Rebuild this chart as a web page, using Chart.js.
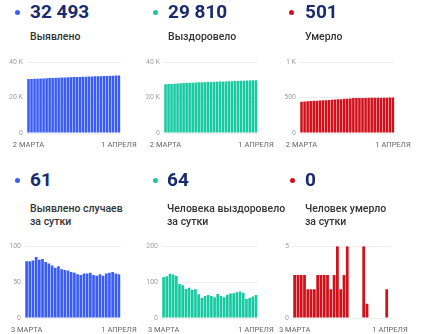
<!DOCTYPE html>
<html>
<head>
<meta charset="utf-8">
<script src="https://cdn.jsdelivr.net/npm/chart.js@4/dist/chart.umd.min.js"></script>
<style>
  body { margin: 0; background: #fff; font-family: Roboto, sans-serif; }
  #wrap { position: relative; width: 430px; height: 334px; overflow: hidden; }
  .dot { position: absolute; width: 5px; height: 5px; border-radius: 50%; }
  .num { position: absolute; font-weight: 700; font-size: 19px; line-height: 19px; color: #172b6e; white-space: nowrap; }
  .lbl { position: absolute; font-weight: 500; font-size: 10.5px; line-height: 13.5px; color: #333; white-space: nowrap; }
  canvas { position: absolute; }
</style>
</head>
<body>
<div id="wrap"></div>
<script>
// dates: cumulative charts start on 2 March, daily ones on 3 March
const totalDates = ['2 МАРТА', '3 МАРТА', '4 МАРТА', '5 МАРТА', '6 МАРТА', '7 МАРТА', '8 МАРТА', '9 МАРТА',
  '10 МАРТА', '11 МАРТА', '12 МАРТА', '13 МАРТА', '14 МАРТА', '15 МАРТА', '16 МАРТА', '17 МАРТА',
  '18 МАРТА', '19 МАРТА', '20 МАРТА', '21 МАРТА', '22 МАРТА', '23 МАРТА', '24 МАРТА', '25 МАРТА',
  '26 МАРТА', '27 МАРТА', '28 МАРТА', '29 МАРТА', '30 МАРТА', '31 МАРТА', '1 АПРЕЛЯ'];
const dailyDates = totalDates.slice(1);

// cumulative totals
const casesTotal = [30451, 30530, 30609, 30689, 30774, 30855, 30937, 31015, 31091, 31164, 31234,
  31306, 31374, 31441, 31507, 31571, 31634, 31695, 31755, 31817, 31879, 31942, 32002, 32061,
  32122, 32181, 32243, 32306, 32370, 32432, 32493];
const recoveredTotal = [27506, 27620, 27736, 27859, 27980, 28097, 28192, 28283, 28364, 28448, 28527,
  28607, 28673, 28729, 28790, 28854, 28915, 28973, 29040, 29101, 29159, 29224, 29292, 29361,
  29433, 29507, 29577, 29630, 29686, 29746, 29810];
const deathsTotal = [443, 446, 449, 452, 455, 457, 459, 461, 464, 467, 470, 473, 475, 478, 483, 485,
  488, 493, 493, 493, 493, 493, 498, 499, 499, 499, 499, 499, 499, 501, 501];

// per day
const casesDaily = [79, 79, 80, 85, 81, 82, 78, 76, 73, 70, 72, 68, 67, 66, 64, 63, 61, 60, 62, 62,
  63, 60, 59, 61, 59, 62, 63, 64, 62, 61];
const recoveredDaily = [114, 116, 123, 121, 117, 95, 91, 81, 84, 79, 80, 66, 56, 61, 64, 61, 58, 67,
  61, 58, 65, 68, 69, 72, 74, 70, 53, 56, 60, 64];
const deathsDaily = [3, 3, 3, 3, 2, 2, 2, 3, 3, 3, 3, 2, 3, 5, 2, 3, 5, 0, 0, 0, 0, 5, 1, 0, 0, 0, 0,
  0, 2, 0];

const BLUE = '#3a5cf6';
const TEAL = '#17c9a1';
const RED = '#d0111b';

function kFmt(v) { return v === 0 ? '0' : (v >= 1000 ? (v / 1000) + ' K' : String(v)); }

const panels = [
  { num: '32 493', title: ['Выявлено'], color: BLUE, labels: totalDates, values: casesTotal,
    max: 40000, step: 20000, dotX: 15, textX: 30, top: 0, plot: [27, 62, 127, 133] },
  { num: '29 810', title: ['Выздоровело'], color: TEAL, labels: totalDates, values: recoveredTotal,
    max: 40000, step: 20000, dotX: 153, textX: 168, top: 0, plot: [164, 62, 264, 133] },
  { num: '501', title: ['Умерло'], color: RED, labels: totalDates, values: deathsTotal,
    max: 1000, step: 500, dotX: 289, textX: 305, top: 0, plot: [300, 62, 401, 133] },
  { num: '61', title: ['Выявлено случаев', 'за сутки'], color: BLUE, labels: dailyDates, values: casesDaily,
    max: 100, step: 50, dotX: 15, textX: 30, top: 168, plot: [25, 246, 127, 318] },
  { num: '64', title: ['Человека выздоровело', 'за сутки'], color: TEAL, labels: dailyDates, values: recoveredDaily,
    max: 200, step: 100, dotX: 153, textX: 167, top: 168, plot: [162, 246, 264, 318] },
  { num: '0', title: ['Человек умерло', 'за сутки'], color: RED, labels: dailyDates, values: deathsDaily,
    max: 5, step: 5, dotX: 290, textX: 305, top: 168, plot: [293, 246, 398, 318] }
];

const wrap = document.getElementById('wrap');
const Y_W = 27, PAD_T = 8, PAD_R = 18, X_H = 22;

panels.forEach(function (p) {
  // header: coloured dot, big number, caption
  let dot = document.createElement('div');
  dot.className = 'dot';
  dot.style.background = p.color;
  dot.style.left = p.dotX + 'px';
  dot.style.top = (p.top + 10) + 'px';
  wrap.appendChild(dot);

  let num = document.createElement('div');
  num.className = 'num';
  num.textContent = p.num;
  num.style.left = p.textX + 'px';
  num.style.top = (p.top + 2) + 'px';
  wrap.appendChild(num);

  let lbl = document.createElement('div');
  lbl.className = 'lbl';
  lbl.innerHTML = p.title.join('<br>');
  lbl.style.left = p.textX + 'px';
  lbl.style.top = (p.top + (p.top ? 33.5 : 29.5)) + 'px';
  wrap.appendChild(lbl);

  // bar chart, canvas sized so the plot area lands on p.plot
  let [l, t, r, b] = p.plot;
  let cv = document.createElement('canvas');
  cv.width = (r - l) + Y_W + PAD_R;
  cv.height = (b - t) + PAD_T + X_H;
  cv.style.left = (l - Y_W) + 'px';
  cv.style.top = (t - PAD_T) + 'px';
  wrap.appendChild(cv);

  new Chart(cv, {
    type: 'bar',
    data: {
      labels: p.labels,
      datasets: [{
        data: p.values,
        backgroundColor: p.color,
        barPercentage: 0.84,
        categoryPercentage: 1
      }]
    },
    options: {
      responsive: false,
      animation: false,
      layout: { autoPadding: false, padding: { left: 0, right: PAD_R, top: PAD_T, bottom: 0 } },
      plugins: { legend: { display: false }, tooltip: { enabled: false } },
      scales: {
        x: {
          grid: { display: false, drawTicks: false },
          border: { display: false },
          ticks: {
            autoSkip: false,
            maxRotation: 0,
            padding: 8,
            color: '#666',
            font: { size: 7.5, family: 'Roboto' },
            callback: function (v, i, ticks) {
              return (i === 0 || i === ticks.length - 1) ? this.getLabelForValue(v) : '';
            }
          },
          afterFit: function (s) { s.height = X_H; }
        },
        y: {
          min: 0,
          max: p.max,
          grid: { color: '#eeeeee', drawTicks: false },
          border: { display: false },
          ticks: {
            stepSize: p.step,
            padding: 4,
            color: '#9e9e9e',
            font: { size: 7, family: 'Roboto' },
            callback: kFmt
          },
          afterFit: function (s) { s.width = Y_W; }
        }
      }
    }
  });
});
</script>
</body>
</html>
